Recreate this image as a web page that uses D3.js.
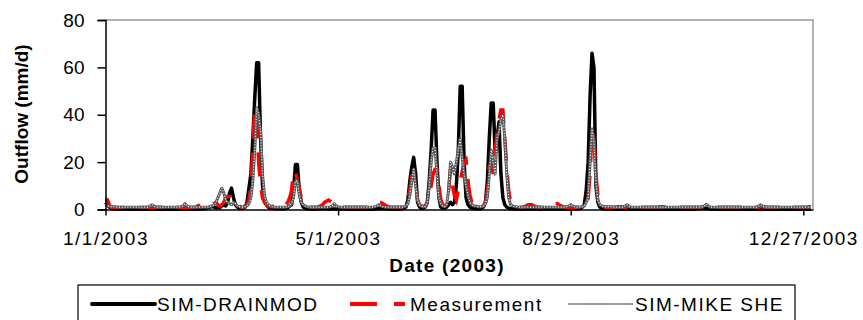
<!DOCTYPE html>
<html><head><meta charset="utf-8">
<script src="https://cdn.jsdelivr.net/npm/d3@7"></script>
<style>
body{margin:0;background:#fff}
svg{display:block}
text{font-family:"Liberation Sans",Arial,sans-serif;fill:#000}
</style>
</head><body>
<svg id="chart" width="863" height="320"></svg>
<script>
// ---------- data ----------
const startDate = "2003-01-01";
const endDate = "2004-01-01";
const xTickLabels = ["1/1/2003", "5/1/2003", "8/29/2003", "12/27/2003"];
const yTickValues = [0, 20, 40, 60, 80];
const seriesNames = ["SIM-DRAINMOD", "Measurement", "SIM-MIKE SHE"];
const yTitle = "Outflow (mm/d)";
const xTitle = "Date (2003)";

// daily outflow (mm/d), day 0 = 1/1/2003
const drainmod = [
3,2,1,0.5,0.3,0.3,0.2,0.2,0.2,0.2,
0.2,0.2,0.2,0.1,0.1,0.1,0.1,0.1,0.1,0.1,
0.1,0.1,0.1,0.1,0.1,0.1,0.1,0.1,0.1,0.1,
0.1,0.1,0.1,0.1,0.1,0.1,0.1,0.1,0.1,0.1,
0.1,0.1,0.2,0.2,0.2,0.2,0.2,0.2,0.2,0.2,
0.2,0.3,0.5,0.8,1,1.2,1,0.8,0.6,0.8,
1.5,2,1.5,3,7,9,5,2,1,0.5,
0.5,0.6,1,3,9,15,30,47,62,62,
30,10,4,2,1,0.6,0.5,0.4,0.3,0.3,
0.3,0.3,0.3,0.5,0.8,1.5,2,8,19,19,
8,3,1,0.5,0.3,0.2,0.2,0.2,0.2,0.2,
0.3,0.3,0.5,0.4,0.3,0.2,0.2,0.2,0.2,0.2,
0.2,0.2,0.2,0.2,0.2,0.2,0.1,0.1,0.1,0.1,
0.1,0.1,0.1,0.1,0.1,0.1,0.1,0.1,0.1,0.1,
0.3,0.3,0.4,0.5,0.4,0.3,0.2,0.2,0.2,0.2,
0.2,0.2,0.2,0.3,0.5,1,4,12,18,22,
15,3,1,0.5,0.5,1,3,12,25,42,
42,20,5,1,0.5,0.5,1,2,3,2,
3,10,25,52,52,20,5,2,1,0.5,
0.5,0.4,0.3,0.3,0.5,1,3,12,30,45,
45,25,30,37,15,5,2,1,0.5,0.3,
0.3,0.2,0.2,0.2,0.2,0.2,0.2,0.2,0.2,0.2,
0.2,0.2,0.3,0.3,0.2,0.2,0.2,0.2,0.2,0.2,
0.2,0.2,0.2,0.2,0.2,0.2,0.2,0.2,0.2,0.2,
0.2,0.2,0.2,0.3,0.4,0.5,1,2,8,20,
48,66,60,10,3,1,0.5,0.3,0.2,0.2,
0.2,0.2,0.2,0.1,0.1,0.1,0.1,0.1,0.1,0.1,
0.1,0.1,0.1,0.1,0.1,0.1,0.1,0.1,0.1,0.1,
0.1,0.1,0.1,0.1,0.1,0.1,0.1,0.1,0.1,0.1,
0.1,0.1,0.1,0.1,0.1,0.1,0.1,0.1,0.1,0.1,
0.1,0.1,0.1,0.1,0.1,0.4,0.4,0.4,0.4,0.4,
0.4,0.4,0.1,0.1,0.1,0.1,0.1,0.1,0.1,0.1,
0.1,0.1,0.1,0.1,0.1,0.1,0.1,0.1,0.1,0.1,
0.1,0.1,0.1,0.1,0.1,0.1,0.1,0.1,0.1,0.1,
0.1,0.1,0.1,0.1,0.1,0.1,0.1,0.1,0.1,0.1,
0.1,0.1,0.1,0.1,0.1,0.1,0.1,0.1,0.1,0.1,
0.1,0.1,0.1,0.1,0.1
];

const measurement = [
4.5,4,2,1,1,0.8,0.8,0.8,0.8,0.8,
0.8,1,1,1,1,0.8,0.8,0.8,0.8,0.8,
0.8,0.8,0.8,0.8,0.8,1,1,1,1,1,
1,1,1,1,1,1,1,1,0.8,0.8,
0.8,0.8,0.8,0.8,0.8,0.8,1,1.2,1.7,1.5,
1.2,1.5,2,2,2,2,2.5,3,2,1.5,
2,3,5,5.5,5.5,5.5,5.5,5,3,1.5,
1,1,1.5,2,4,10,26,43,40,20,
10,5,3,2,1.5,1.2,1.2,1.5,2,2.5,
2,1.5,1.5,2,3,5,8,16,16,12,
9,5,3,2,1.5,1.2,1,1,1,1,
1.2,1.5,2,3,3.5,4,3.5,3,2,1.5,
1.2,1,1,1,1,1,1,1,1,1,
1,1,1,1,1,1,1.2,1.5,2,2.5,
3,3,3,2.5,2,1.5,1.2,1,1,1,
1,1,1,1,1,1.5,5,8,14,14,
10,4,2,1.5,1.2,1.5,3,6,10,15,
17,17,10,4,2,1.5,2,8,17,10,
6,4,8,12,16,20,21,12,6,3,
4,4,3,2,1.5,1.5,3,8,18,20,
15,25,32,38,42,42,30,18,8,3,
2,1.5,1.2,1,1,1,1.2,1.5,2,2,
2,1.5,1.2,1,1,1,1,1,1.2,1.5,
2,2.5,2.5,2.5,2,1.5,1.2,1,1,1,
1,1,1,1,1,1,1,1,1.5,5,
15,34,30,15,6,2,1.5,1.2,1,1,
1,1,1,1,1.2,1.2,1.2,1,1,1,
1,1,1,1,1,1,1,1,1,1,
1,1,1,1,1,1,1.2,1.2,1.2,1,
1,1,1,1,1,1,1,1,1,1,
1,1,1,1,1,1,1,1,1.2,1.2,
1.2,1.2,1,1,1,1,1,1,1,1,
1,1,1,1,1,1,1,1,1,1,
1,1,1,1,1,1,1,1,1.2,1.2,
1.2,1,1,1,1,1,1,1,1,1,
1,1,1,1,1,1,1,1,1,1,
1,1,1,1.2,1.2
];

const mikeShe = [
2,1.5,1.5,1.2,1.2,1.2,1,1,1,1,
1,1,1,1,1,1,1,1,1,1,
1,1,1,1.5,2,1.5,1,1,1,1,
1,1,1,1,1,1,1,1,1,1.2,
1.5,2.5,1.5,1.2,1,1,1,1,1,1,
1,1,1,1,1.2,1.5,2,3,5,7,
9,7,4,3,2.5,2,3,2.5,1.5,1.2,
1,1,1.2,1.5,2.5,5,12,25,43,40,
33,15,6,3,2,1.5,1.2,1,1,1,
1,1,1,1,1.2,1.5,2.5,5,12,12,
6,3,2,1.5,1.2,1,1,1,1,1,
1,1,1,1,1,1,1.2,1.5,2.5,1.5,
1.2,1,1,1,1,1,1,1,1,1,
1,1,1,1,1,1,1,1,1,1.2,
1.5,2,1.5,1.2,1,1,1,1,1,1,
1,1,1,1,1.2,1.5,2.5,6,12,17,
10,4,2,1.5,1.2,1.2,3,10,20,26,
26,15,5,2.5,1.5,1.2,2,8,20,18,
15,20,25,30,22,15,10,6,3,2,
1.5,1.5,1.2,1.2,1.2,1.5,2.5,5,15,25,
20,15,30,33,38,40,30,15,5,2,
1.5,1.2,1.2,1,1,1,1,1,1,1,
1,1,1,1,1,1,1,1,1,1,
1,1,1,1,1,1,1,1,1.2,1.5,
2,1.5,1.2,1,1,1,1.2,1.5,3,5,
20,34,28,12,4,2,1.5,1.2,1.2,1.2,
1.2,1.2,1,1,1,1,1,1,1.5,2,
1.5,1,1,1,1,1,1,1,1,1,
1,1,1,1,1,1,1,1,1,1,
1,1,1,1,1,1,1,1,1,1,
1,1,1,1,1,1,1,1,1.2,1.5,
2.2,1.5,1,1,1,1,1,1,1,1,
1,1,1,1,1,1,1,1,1,1,
1,1,1,1,1,1,1,1.5,2,1.5,
1,1,1,1,1,1,1,1,1,1,
1,1,1,1,1,1,1,1,1,1,
1,1,1,1,1
];

// ---------- chart ----------
const svg = d3.select("#chart");
const parse = d3.utcParse("%Y-%m-%d");
const parseLabel = d3.utcParse("%m/%d/%Y");
const fmtLabel = d3.utcFormat("%-m/%-d/%Y");
const dayDate = i => d3.utcDay.offset(parse(startDate), i);

const plot = {left: 105.5, right: 813, top: 20, bottom: 209.5};
const x = d3.scaleUtc().domain([parse(startDate), parse(endDate)]).range([plot.left, plot.right]);
const y = d3.scaleLinear().domain([0, 80]).range([plot.bottom, plot.top]);

// plot area border (top & right, grey)
svg.append("path")
  .attr("d", `M${plot.left},${plot.top}H${plot.right}V${plot.bottom}`)
  .attr("fill", "none").attr("stroke", "#9a9a9a").attr("stroke-width", 1.5);

const line = d3.line().x((d, i) => x(dayDate(i))).y(d => y(d));

// DRAINMOD (black solid)
svg.append("path").datum(drainmod).attr("d", line)
  .attr("fill", "none").attr("stroke", "#000").attr("stroke-width", 3.5)
  .attr("stroke-linejoin", "round");
// Measurement (red dashed)
svg.append("path").datum(measurement).attr("d", line)
  .attr("fill", "none").attr("stroke", "#ff0000").attr("stroke-width", 3.5)
  .attr("stroke-dasharray", "24,14");
// MIKE SHE (grey dotted texture)
svg.append("path").datum(mikeShe).attr("d", line)
  .attr("fill", "none").attr("stroke", "#5a5a5a").attr("stroke-width", 3)
  .attr("stroke-linejoin", "round");
svg.append("path").datum(mikeShe).attr("d", line)
  .attr("fill", "none").attr("stroke", "#ffffff").attr("stroke-width", 1.1)
  .attr("stroke-dasharray", "1,1.8").attr("stroke-linejoin", "round");

// axes
const yAxis = d3.axisLeft(y).tickValues(yTickValues).tickSize(8).tickPadding(13);
const gy = svg.append("g").attr("transform", `translate(${plot.left},0)`).call(yAxis);
gy.select(".domain").attr("stroke", "#000").attr("stroke-width", 1.5);
gy.selectAll(".tick line").attr("stroke", "#000").attr("stroke-width", 1.5);
gy.selectAll(".tick text").attr("font-size", 19).attr("font-family", '"Liberation Sans",Arial,sans-serif').attr("fill", "#000");

const xAxis = d3.axisBottom(x).tickValues(xTickLabels.map(parseLabel)).tickFormat(fmtLabel)
  .tickSize(6).tickPadding(16).tickSizeOuter(0);
const gx = svg.append("g").attr("transform", `translate(0,${plot.bottom})`).call(xAxis);
gx.select(".domain").attr("stroke", "#000").attr("stroke-width", 1.5);
gx.selectAll(".tick line").attr("stroke", "#000").attr("stroke-width", 1.5);
gx.selectAll(".tick text").attr("font-size", 19).attr("letter-spacing", 1.5)
  .attr("font-family", '"Liberation Sans",Arial,sans-serif').attr("fill", "#000");

// titles
svg.append("text").attr("transform", "translate(28,114) rotate(-90)")
  .attr("text-anchor", "middle").attr("font-size", 19).attr("font-weight", "bold").text(yTitle);
svg.append("text").attr("x", 447).attr("y", 272)
  .attr("text-anchor", "middle").attr("font-size", 19).attr("font-weight", "bold")
  .attr("letter-spacing", 1.3).text(xTitle);

// legend
const lg = svg.append("g");
lg.append("rect").attr("x", 78).attr("y", 285).attr("width", 717).attr("height", 50)
  .attr("fill", "#fff").attr("stroke", "#000").attr("stroke-width", 1.2);
const ly = 304;
lg.append("line").attr("x1", 92).attr("x2", 155).attr("y1", ly).attr("y2", ly)
  .attr("stroke", "#000").attr("stroke-width", 4).attr("stroke-linecap", "round");
lg.append("line").attr("x1", 350).attr("x2", 405).attr("y1", ly).attr("y2", ly)
  .attr("stroke", "#ff0000").attr("stroke-width", 4).attr("stroke-dasharray", "27,17");
lg.append("line").attr("x1", 568).attr("x2", 633).attr("y1", ly).attr("y2", ly)
  .attr("stroke", "#8a8a8a").attr("stroke-width", 2);
lg.append("line").attr("x1", 568).attr("x2", 633).attr("y1", ly).attr("y2", ly)
  .attr("stroke", "#fff").attr("stroke-width", 0.8).attr("stroke-dasharray", "1,1.5");
const legendX = [157, 410, 635];
seriesNames.forEach((n, i) => {
  lg.append("text").attr("x", legendX[i]).attr("y", 310.5)
    .attr("font-size", 19).attr("letter-spacing", 1.5).text(n);
});
</script>
</body></html>
